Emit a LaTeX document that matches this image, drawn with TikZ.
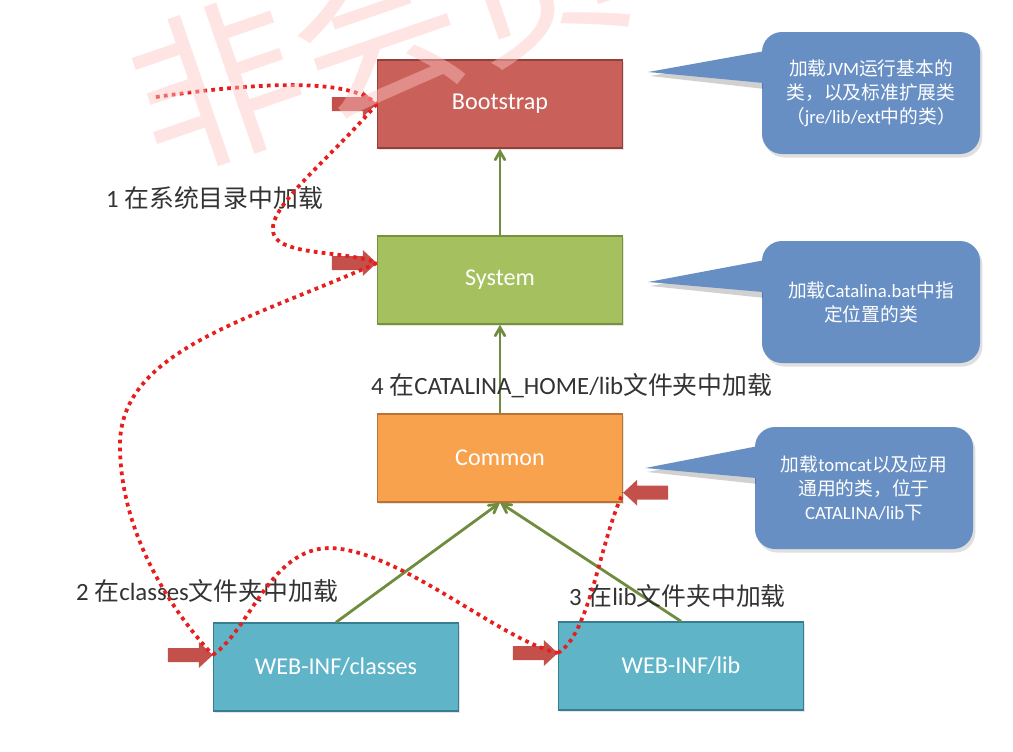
\documentclass[tikz,border=0pt]{standalone}
\usepackage{fontspec}
\setmainfont{Carlito}
\newfontfamily\cjk{Noto Sans CJK SC}
\newcommand{\zh}[1]{{\cjk #1}}
\usetikzlibrary{calc}
\usetikzlibrary{arrows}
\usetikzlibrary{shadows}

\definecolor{bootred}{RGB}{201,96,89}
\definecolor{bootline}{RGB}{150,62,58}
\definecolor{sysgreen}{RGB}{165,193,95}
\definecolor{sysline}{RGB}{118,146,60}
\definecolor{comorange}{RGB}{248,162,78}
\definecolor{comline}{RGB}{185,115,55}
\definecolor{webteal}{RGB}{96,180,200}
\definecolor{webline}{RGB}{55,125,145}
\definecolor{noteblue}{RGB}{104,143,196}
\definecolor{linkgreen}{RGB}{112,140,62}
\definecolor{inred}{RGB}{196,80,76}
\definecolor{dotred}{RGB}{232,30,30}
\definecolor{marktint}{RGB}{255,196,196}

\begin{document}
\begin{tikzpicture} [x=0.03cm, y=-0.03cm,
 loader/.style={draw, line width=1.2pt, minimum width=7.35cm, minimum height=2.64cm, text=white, font=\fontsize{20.6}{24}\selectfont, drop shadow={opacity=.2, shadow xshift=1.5pt, shadow yshift=-1.5pt}},
 note/.style={fill=noteblue, rounded corners=.6cm, minimum width=6.54cm, minimum height=3.66cm, text=white, align=center, font=\fontsize{16}{20.5}\selectfont, drop shadow={opacity=.25, shadow xshift=2pt, shadow yshift=-3pt}},
 phase/.style={anchor=west, inner sep=0pt, text=black!80, font=\fontsize{21.2}{24}\selectfont},
 inarrow/.pic={\fill[inred] (0,0) -- (-14,-13) -- (-14,-7) -- (-45,-7) -- (-45,7) -- (-14,7) -- (-14,13) -- cycle;},
 link/.style={linkgreen, line width=2.4pt, ->, >=angle 60},
 trail/.style={dotred, line width=3.2pt, dash pattern=on 3.2pt off 3.6pt}]
\path[use as bounding box, fill=white] (0,0) rectangle (1013,751);

\node[loader, fill=bootred, draw=bootline] (boot) at (500,104) {Bootstrap};
\node[loader, fill=sysgreen, draw=sysline] (sys) at (500,280) {System};
\node[loader, fill=comorange, draw=comline] (com) at (500,458) {Common};
\node[loader, fill=webteal, draw=webline] (cls) at (336,667) {WEB-INF/classes};
\node[loader, fill=webteal, draw=webline] (lib) at (681,666) {WEB-INF/lib};

\draw[link] (sys.north)--(boot.south);
\draw[link] (com.north)--(sys.south);
\draw[link] (cls.north)--(com.south);
\draw[link] (lib.north)--(com.south);

\node[phase] (l1) at (106,198) {1 \zh{在系统目录中加载}};
\node[phase] (l4) at (371,386) {4 \zh{在}CATALINA\_HOME/lib\zh{文件夹中加载}};
\node[phase] (l2) at (76,591) {2 \zh{在}classes\zh{文件夹中加载}};
\node[phase] (l3) at (569,596) {3 \zh{在}lib\zh{文件夹中加载}};

\node[note] (jvm) at (871,93) {\zh{加载}JVM\zh{运行基本的}\\\zh{类，以及标准扩展类}\\\zh{（}jre/lib/ext\zh{中的类）}};
\node[note] (cat) at (871,302) {\zh{加载}Catalina.bat\zh{中指}\\\zh{定位置的类}};
\node[note] (tom) at (864,488) {\zh{加载}tomcat\zh{以及应用}\\\zh{通用的类，位于}\\CATALINA/lib\zh{下}};
\coordinate (jvm-tip) at ($(boot.east)+(25,-32)$);
\coordinate (cat-tip) at ($(sys.east)+(25,2)$);
\coordinate (tom-tip) at ($(com.east)+(22,10)$);
\foreach \n in {jvm,cat,tom} {
 \fill[black, opacity=.18] ($(\n-tip)+(2,4)$) -- ($(\n.north west)+(1,23)$) -- ($(\n.north west)+(1,57)$) -- cycle;
 \fill[noteblue] (\n-tip) -- ($(\n.north west)+(10,18)$) -- ($(\n.north west)+(10,52)$) -- cycle;
}

\coordinate (inboot) at (boot.west);
\coordinate (insys) at ($(sys.west)+(0,-17)$);
\coordinate (incls) at ($(cls.west)+(0,-12)$);
\coordinate (inlib) at ($(lib.west)+(0,-13)$);
\coordinate (incom) at ($(com.south east)+(0,-10)$);
\foreach \p in {inboot,insys,incls,inlib} {
 \pic at (\p) {inarrow};
}
\pic[xscale=-1] at (incom) {inarrow};

\coordinate (trailstart) at (156,97);
\draw[trail] (trailstart) .. controls (260,82) and (350,78) .. (inboot);
\draw[trail] (inboot) .. controls (320,170) and (250,220) .. (280,242) .. controls (300,255) and (350,252) .. (insys);
\draw[trail] (insys) .. controls (250,320) and (120,350) .. (120,445) .. controls (120,540) and (180,620) .. (incls);
\draw[trail] (incls) .. controls (250,630) and (270,548) .. (330,548) .. controls (400,550) and (500,640) .. (inlib);
\draw[trail] (inlib) .. controls (590,635) and (600,540) .. (incom);

\node[text=marktint, opacity=.45, rotate=19, font=\cjk\fontsize{145}{145}\selectfont] (mark) at (378,30) {非会员};
\end{tikzpicture}
\end{document}
